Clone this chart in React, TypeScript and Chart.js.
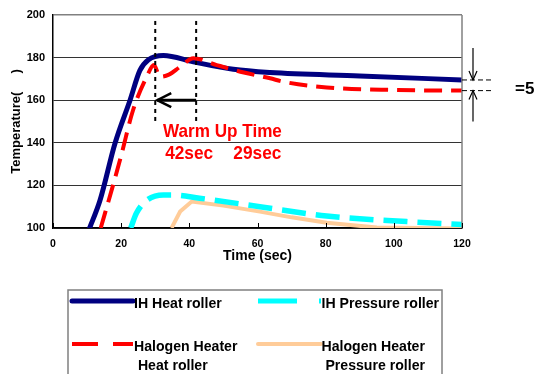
import React, { useEffect, useRef } from 'react';
import { Chart, registerables } from 'chart.js';

Chart.register(...registerables);

// ---- data ----
const xTicks = [0, 20, 40, 60, 80, 100, 120];
const yTicks = [100, 120, 140, 160, 180, 200];

const ihHeatTime = [10.5, 13.8, 18.2, 22.6, 25.5, 28, 32.4, 41.2, 52.9, 63.7, 90, 120];
const ihHeatTemp = [99, 113, 139.8, 160, 174, 179, 181, 178, 174.5, 173, 171.4, 169.5];

const haloHeatTime = [14, 17.6, 20, 23.5, 27.5, 29.6, 31.4, 34, 37.3, 41.2, 48, 56, 63.7, 67.5, 80.3, 100, 120];
const haloHeatTemp = [100, 120, 134, 155.4, 171, 176.5, 171, 172, 175.7, 179.7, 176.5, 173, 170.3, 168.7, 166, 164.8, 164.5];

const ihPressTime = [22.8, 24.5, 27.5, 32.4, 35.3, 43, 60.7, 80.3, 103.8, 120];
const ihPressTemp = [100, 107, 113, 115.5, 115.5, 114, 110, 105.6, 103, 101.6];

const haloPressTime = [34.8, 37.3, 40.7, 50, 60.7, 70, 80.3, 95, 120];
const haloPressTemp = [100, 107.7, 112.4, 110.5, 107.7, 105, 102.5, 100.2, 99.8];

const warmUpMarks = [30, 42];
const warmUpLabels = ['42sec', '29sec'];
const diffLabel = '=5';

const legendItems = [
  { lines: ['IH Heat roller'], color: '#000080', dash: [] as number[], width: 5 },
  { lines: ['IH Pressure roller'], color: '#00FFFF', dash: [39, 22], width: 5 },
  { lines: ['Halogen Heater', ' Heat roller'], color: '#FF0000', dash: [26, 15], width: 4 },
  { lines: ['Halogen Heater', ' Pressure roller'], color: '#FFCC99', dash: [] as number[], width: 4 },
];

const FONT = '"Liberation Sans", Arial, sans-serif';

const pts = (xs: number[], ys: number[]) => xs.map((t, i) => ({ x: t, y: ys[i] }));

function drawText(ctx: CanvasRenderingContext2D, text: string, x: number, y: number, font: string, color: string, sx: number) {
  ctx.save();
  ctx.font = font;
  ctx.fillStyle = color;
  ctx.textBaseline = 'middle';
  ctx.textAlign = 'left';
  ctx.translate(x, y);
  ctx.scale(sx, 1);
  ctx.fillText(text, 0, 0);
  ctx.restore();
}

function seg(ctx: CanvasRenderingContext2D, x1: number, y1: number, x2: number, y2: number) {
  ctx.beginPath();
  ctx.moveTo(x1, y1);
  ctx.lineTo(x2, y2);
  ctx.stroke();
}

const overlayPlugin = {
  id: 'overlay',
  afterDatasetsDraw(chart: any) {
    const { ctx, chartArea: ca, scales } = chart;
    const xs = scales.x;
    const ys = scales.y;
    ctx.save();

    // right border of plot
    ctx.strokeStyle = '#808080';
    ctx.lineWidth = 1.5;
    seg(ctx, ca.right, ca.top, ca.right, ca.bottom);

    // inward x tick marks
    ctx.strokeStyle = '#000';
    ctx.lineWidth = 1;
    xTicks.forEach((t) => {
      const px = Math.round(xs.getPixelForValue(t)) + 0.5;
      seg(ctx, px, ca.bottom, px, ca.bottom - 5);
    });

    // vertical dotted warm-up markers
    ctx.lineWidth = 2;
    ctx.setLineDash([4, 4]);
    warmUpMarks.forEach((t) => {
      const px = xs.getPixelForValue(t);
      seg(ctx, px, ys.getPixelForValue(197.2), px, ys.getPixelForValue(149.3));
    });
    ctx.setLineDash([]);

    // arrow at 160 from 42 -> 30
    const ay = ys.getPixelForValue(160);
    const ax1 = xs.getPixelForValue(warmUpMarks[1]);
    const ax0 = xs.getPixelForValue(warmUpMarks[0]) + 2;
    ctx.lineWidth = 3;
    seg(ctx, ax1, ay, ax0, ay);
    ctx.lineWidth = 2.5;
    ctx.beginPath();
    ctx.moveTo(ax0 + 14, ay - 7);
    ctx.lineTo(ax0, ay);
    ctx.lineTo(ax0 + 14, ay + 7);
    ctx.stroke();

    // warm up text
    drawText(ctx, 'Warm Up Time', xs.getPixelForValue(32.3), 132, `bold 19px ${FONT}`, '#FF0000', 0.9);
    drawText(ctx, warmUpLabels[0], xs.getPixelForValue(32.9), 154, `bold 19px ${FONT}`, '#FF0000', 0.91);
    drawText(ctx, warmUpLabels[1], xs.getPixelForValue(52.9), 154, `bold 19px ${FONT}`, '#FF0000', 0.91);

    // difference annotation on the right
    const yA = ys.getPixelForValue(ihHeatTemp[ihHeatTemp.length - 1]);
    const yB = ys.getPixelForValue(haloHeatTemp[haloHeatTemp.length - 1]);
    const vx = ca.right + 11;
    ctx.strokeStyle = '#000';
    ctx.lineWidth = 1;
    ctx.setLineDash([5, 3]);
    seg(ctx, ca.right, yA, ca.right + 30, yA);
    seg(ctx, ca.right, yB, ca.right + 30, yB);
    ctx.setLineDash([]);
    ctx.lineWidth = 1.2;
    seg(ctx, vx, yA - 32, vx, yA);
    ctx.beginPath();
    ctx.moveTo(vx - 4, yA - 9);
    ctx.lineTo(vx, yA);
    ctx.lineTo(vx + 4, yA - 9);
    ctx.stroke();
    seg(ctx, vx, yB, vx, yB + 31);
    ctx.beginPath();
    ctx.moveTo(vx - 4, yB + 9);
    ctx.lineTo(vx, yB);
    ctx.lineTo(vx + 4, yB + 9);
    ctx.stroke();
    drawText(ctx, diffLabel, ca.right + 53, 89, `bold 17px ${FONT}`, '#000', 1);

    ctx.restore();
  },
  afterDraw(chart: any) {
    const { ctx } = chart;
    ctx.save();
    // legend box
    ctx.strokeStyle = '#808080';
    ctx.lineWidth = 1.5;
    ctx.strokeRect(68, 290, 374, 100);

    const colX = [72, 258];
    const textX = [134, 321.5];
    const rowY = [301, 344];
    legendItems.forEach((it, i) => {
      const c = i % 2;
      const r = Math.floor(i / 2);
      const y = rowY[r];
      ctx.strokeStyle = it.color;
      ctx.lineWidth = it.width;
      ctx.setLineDash(it.dash);
      ctx.lineCap = it.dash.length ? 'butt' : 'round';
      const x0 = colX[c];
      const x1 = c === 0 ? 133 : 321;
      seg(ctx, x0, y, x1, y);
      ctx.setLineDash([]);
      it.lines.forEach((t, k) => {
        drawText(ctx, t, textX[c], y + 3 + k * 19, `bold 15px ${FONT}`, '#000', 0.94);
      });
    });
    ctx.restore();
  },
};

export default function App() {
  const ref = useRef<HTMLCanvasElement | null>(null);

  useEffect(() => {
    if (!ref.current) return;
    const chart = new Chart(ref.current, {
      type: 'line',
      data: {
        datasets: [
          {
            label: 'IH Heat roller',
            data: pts(ihHeatTime, ihHeatTemp),
            borderColor: '#000080',
            borderWidth: 5,
            pointRadius: 0,
            cubicInterpolationMode: 'monotone',
            order: 4,
          },
          {
            label: 'Halogen Heater Heat roller',
            data: pts(haloHeatTime, haloHeatTemp),
            borderColor: '#FF0000',
            borderWidth: 4,
            borderDash: [18, 9],
            pointRadius: 0,
            cubicInterpolationMode: 'monotone',
            order: 3,
          },
          {
            label: 'Halogen Heater Pressure roller',
            data: pts(haloPressTime, haloPressTemp),
            borderColor: '#FFCC99',
            borderWidth: 4,
            pointRadius: 0,
            tension: 0,
            order: 2,
          },
          {
            label: 'IH Pressure roller',
            data: pts(ihPressTime, ihPressTemp),
            borderColor: '#00FFFF',
            borderWidth: 5.5,
            borderDash: [24, 10],
            pointRadius: 0,
            cubicInterpolationMode: 'monotone',
            order: 1,
          },
        ],
      },
      options: {
        responsive: false,
        animation: false,
        layout: { padding: { left: 0, top: 15, right: 72, bottom: 104 } },
        plugins: {
          legend: { display: false },
          tooltip: { enabled: false },
        },
        scales: {
          x: {
            type: 'linear',
            min: 0,
            max: 120,
            afterFit: (s: any) => {
              s.height = 42;
            },
            afterBuildTicks: (s: any) => {
              s.ticks = xTicks.map((v) => ({ value: v }));
            },
            grid: { display: false, drawTicks: false },
            border: { display: true, color: '#000', width: 1.5 },
            ticks: {
              color: '#000',
              padding: 10,
              maxRotation: 0,
              font: { family: FONT, size: 10.5, weight: 'bold' },
            },
            title: {
              display: true,
              text: 'Time (sec)',
              color: '#000',
              padding: { top: 0, bottom: 5 },
              font: { family: FONT, size: 14, weight: 'bold' },
            },
          },
          y: {
            type: 'linear',
            min: 100,
            max: 200,
            afterFit: (s: any) => {
              s.width = 53;
            },
            afterBuildTicks: (s: any) => {
              s.ticks = yTicks.map((v) => ({ value: v }));
            },
            grid: {
              drawTicks: false,
              color: (c: any) => (c.tick && c.tick.value === 200 ? '#808080' : '#333'),
              lineWidth: (c: any) => (c.tick && c.tick.value === 200 ? 1.5 : 1),
            },
            border: { display: true, color: '#000', width: 1.5 },
            ticks: {
              color: '#000',
              padding: 8,
              font: { family: FONT, size: 11, weight: 'bold' },
            },
            title: {
              display: true,
              text: 'Temperature(     )',
              color: '#000',
              padding: { top: 9, bottom: 0 },
              font: { family: FONT, size: 13, weight: 'bold' },
            },
          },
        },
      },
      plugins: [overlayPlugin],
    } as any);
    return () => chart.destroy();
  }, []);

  return (
    <div style={{ position: 'absolute', left: 0, top: 0, width: 534, height: 374, background: '#fff' }}>
      <canvas ref={ref} width={534} height={374} style={{ display: 'block' }} />
    </div>
  );
}
